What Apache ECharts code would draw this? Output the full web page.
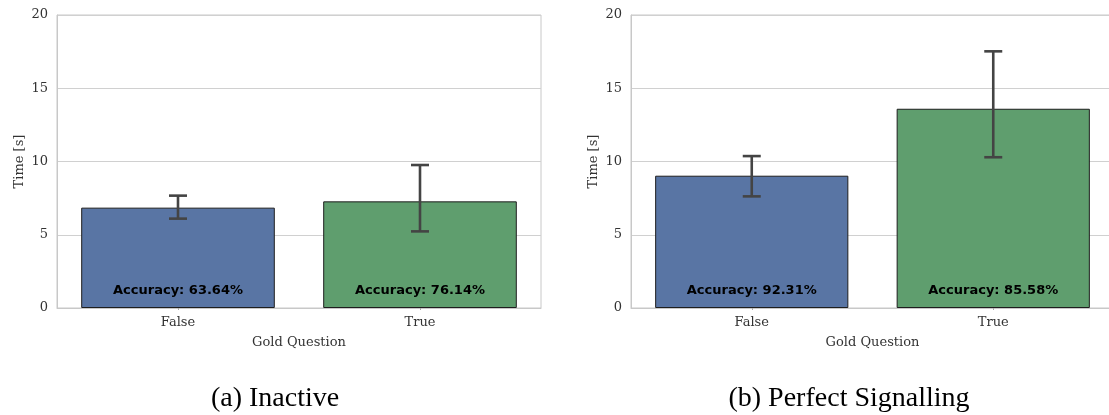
<!DOCTYPE html>
<html>
<head>
<meta charset="utf-8">
<script src="https://cdn.jsdelivr.net/npm/echarts@6/dist/echarts.min.js"></script>
<style>
  html, body { margin: 0; padding: 0; background: #fff; }
  #chart { width: 1109px; height: 415px; }
</style>
</head>
<body>
<div id="chart"></div>
<script>
// Gold question flag on the x axis
const categories = ['False', 'True'];

// (a) Inactive: mean time per answer and its confidence interval
const inactiveMean = [6.85, 7.28];
const inactiveLow = [6.10, 5.23];
const inactiveHigh = [7.67, 9.76];
const inactiveAccuracy = ['63.64%', '76.14%'];

// (b) Perfect Signalling
const perfectMean = [9.03, 13.60];
const perfectLow = [7.62, 10.29];
const perfectHigh = [10.37, 17.52];
const perfectAccuracy = ['92.31%', '85.58%'];

const yTicks = [0, 5, 10, 15, 20];
const captions = ['(a) Inactive', '(b) Perfect Signalling'];

const barColors = ['#5975a4', '#5f9e6e'];
const serif = '"DejaVu Serif", serif';

const chart = echarts.init(document.getElementById('chart'), null, { renderer: 'canvas' });

function xAxisFor(gridIndex) {
  return {
    type: 'category', gridIndex: gridIndex, data: categories,
    name: 'Gold Question', nameLocation: 'middle', nameGap: 28,
    nameTextStyle: { fontFamily: serif, fontSize: 13, color: '#333' },
    axisLine: { show: true, lineStyle: { color: '#c8c8c8', width: 1 } },
    axisTick: { show: true, alignWithLabel: true, length: 2, lineStyle: { color: '#aaa' } },
    axisLabel: { fontFamily: serif, fontSize: 13, color: '#333', margin: 8 },
    splitLine: { show: false }
  };
}

function yAxisFor(gridIndex) {
  return {
    type: 'value', gridIndex: gridIndex, min: yTicks[0], max: yTicks[yTicks.length - 1], interval: 5,
    name: 'Time [s]', nameLocation: 'middle', nameGap: 31, nameRotate: 90,
    nameTextStyle: { fontFamily: serif, fontSize: 13, color: '#333' },
    axisLine: { show: true, lineStyle: { color: '#c8c8c8', width: 1 } },
    axisTick: { show: false },
    axisLabel: { fontFamily: serif, fontSize: 13, color: '#333', margin: 9 },
    splitLine: { show: true, lineStyle: { color: '#d0d0d0', width: 1 } }
  };
}

function barSeries(idx, means, acc) {
  return {
    type: 'bar', xAxisIndex: idx, yAxisIndex: idx,
    barWidth: '80%',
    data: means.map((v, i) => ({
      value: v,
      itemStyle: { color: barColors[i], borderColor: '#1e1e1e', borderWidth: 1 }
    })),
    label: {
      show: true, position: 'insideBottom', distance: 11,
      formatter: p => 'Accuracy: ' + acc[p.dataIndex],
      fontFamily: '"DejaVu Sans", sans-serif', fontWeight: 'bold', fontSize: 13, color: '#000'
    },
    z: 2
  };
}

function errorSeries(idx, low, high) {
  return {
    type: 'custom', xAxisIndex: idx, yAxisIndex: idx,
    data: categories.map((c, i) => [i, low[i], high[i]]),
    renderItem: function (params, api) {
      const x = api.value(0);
      const lo = api.coord([x, api.value(1)]);
      const hi = api.coord([x, api.value(2)]);
      const half = 9;
      const style = { stroke: '#444', lineWidth: 2.6, fill: null };
      return {
        type: 'group',
        children: [
          { type: 'line', shape: { x1: lo[0], y1: lo[1], x2: hi[0], y2: hi[1] }, style: style },
          { type: 'line', shape: { x1: lo[0] - half, y1: lo[1], x2: lo[0] + half, y2: lo[1] }, style: style },
          { type: 'line', shape: { x1: hi[0] - half, y1: hi[1], x2: hi[0] + half, y2: hi[1] }, style: style }
        ]
      };
    },
    z: 5
  };
}

chart.setOption({
  backgroundColor: '#fff',
  animation: false,
  grid: [
    { left: 57, top: 15, width: 484, height: 293, outerBoundsMode: 'none', show: true, borderColor: '#c8c8c8', borderWidth: 1, backgroundColor: 'transparent' },
    { left: 631, top: 15, width: 483, height: 293, outerBoundsMode: 'none', show: true, borderColor: '#c8c8c8', borderWidth: 1, backgroundColor: 'transparent' }
  ],
  xAxis: [xAxisFor(0), xAxisFor(1)],
  yAxis: [yAxisFor(0), yAxisFor(1)],
  series: [
    barSeries(0, inactiveMean, inactiveAccuracy),
    errorSeries(0, inactiveLow, inactiveHigh),
    barSeries(1, perfectMean, perfectAccuracy),
    errorSeries(1, perfectLow, perfectHigh)
  ],
  graphic: [
    { type: 'text', x: 275, y: 399, style: { text: captions[0], font: '28px "Liberation Serif", serif', fill: '#000', align: 'center', verticalAlign: 'middle' } },
    { type: 'text', x: 849, y: 399, style: { text: captions[1], font: '28px "Liberation Serif", serif', fill: '#000', align: 'center', verticalAlign: 'middle' } }
  ]
});
</script>
</body>
</html>
